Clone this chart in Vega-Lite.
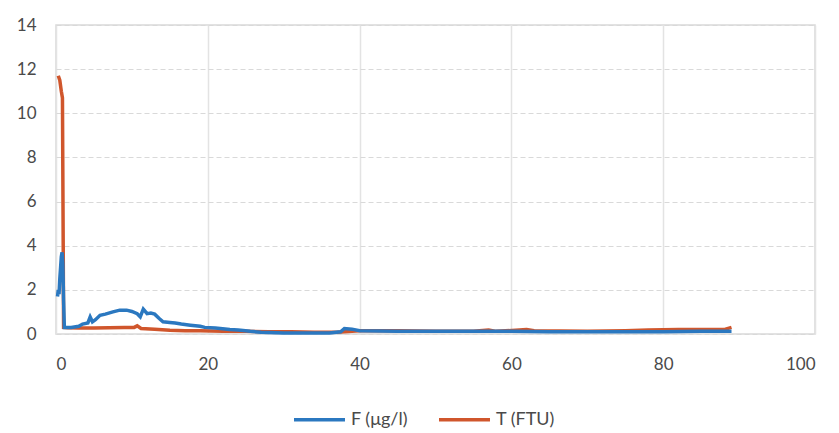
{
  "$schema": "https://vega.github.io/schema/vega-lite/v6.json",
  "width": 759,
  "height": 309,
  "autosize": "none",
  "padding": {"left": 56, "top": 25, "right": 24, "bottom": 99},
  "background": "white",
  "config": {
    "font": "Lato",
    "view": {"stroke": "#d9d9d9", "strokeWidth": 1.5},
    "axis": {"labelFont": "Lato", "labelFontSize": 17, "labelColor": "#4a4a4a", "domain": false, "ticks": false, "title": null}
  },
  "data": {"values": [
    {"x": 0.3, "v": 11.7, "s": "T (FTU)"},
    {"x": 0.5, "v": 11.5, "s": "T (FTU)"},
    {"x": 0.7, "v": 11.0, "s": "T (FTU)"},
    {"x": 0.85, "v": 10.7, "s": "T (FTU)"},
    {"x": 0.95, "v": 4.0, "s": "T (FTU)"},
    {"x": 1.0, "v": 0.3, "s": "T (FTU)"},
    {"x": 1.5, "v": 0.28, "s": "T (FTU)"},
    {"x": 3, "v": 0.27, "s": "T (FTU)"},
    {"x": 5, "v": 0.27, "s": "T (FTU)"},
    {"x": 7, "v": 0.28, "s": "T (FTU)"},
    {"x": 9, "v": 0.3, "s": "T (FTU)"},
    {"x": 10.3, "v": 0.3, "s": "T (FTU)"},
    {"x": 10.7, "v": 0.37, "s": "T (FTU)"},
    {"x": 11.2, "v": 0.25, "s": "T (FTU)"},
    {"x": 13, "v": 0.22, "s": "T (FTU)"},
    {"x": 15, "v": 0.17, "s": "T (FTU)"},
    {"x": 17, "v": 0.15, "s": "T (FTU)"},
    {"x": 19, "v": 0.15, "s": "T (FTU)"},
    {"x": 22, "v": 0.12, "s": "T (FTU)"},
    {"x": 25, "v": 0.12, "s": "T (FTU)"},
    {"x": 28, "v": 0.1, "s": "T (FTU)"},
    {"x": 31, "v": 0.1, "s": "T (FTU)"},
    {"x": 34, "v": 0.08, "s": "T (FTU)"},
    {"x": 37, "v": 0.08, "s": "T (FTU)"},
    {"x": 38, "v": 0.1, "s": "T (FTU)"},
    {"x": 40, "v": 0.15, "s": "T (FTU)"},
    {"x": 45, "v": 0.15, "s": "T (FTU)"},
    {"x": 50, "v": 0.12, "s": "T (FTU)"},
    {"x": 55, "v": 0.12, "s": "T (FTU)"},
    {"x": 57, "v": 0.18, "s": "T (FTU)"},
    {"x": 58, "v": 0.12, "s": "T (FTU)"},
    {"x": 62, "v": 0.2, "s": "T (FTU)"},
    {"x": 63, "v": 0.15, "s": "T (FTU)"},
    {"x": 70, "v": 0.12, "s": "T (FTU)"},
    {"x": 75, "v": 0.15, "s": "T (FTU)"},
    {"x": 78, "v": 0.18, "s": "T (FTU)"},
    {"x": 82, "v": 0.2, "s": "T (FTU)"},
    {"x": 85, "v": 0.2, "s": "T (FTU)"},
    {"x": 88, "v": 0.2, "s": "T (FTU)"},
    {"x": 89, "v": 0.3, "s": "T (FTU)"},
    {"x": 0.2, "v": 1.7, "s": "F (μg/l)"},
    {"x": 0.3, "v": 2.0, "s": "F (μg/l)"},
    {"x": 0.4, "v": 1.8, "s": "F (μg/l)"},
    {"x": 0.5, "v": 2.5, "s": "F (μg/l)"},
    {"x": 0.6, "v": 3.0, "s": "F (μg/l)"},
    {"x": 0.7, "v": 3.5, "s": "F (μg/l)"},
    {"x": 0.8, "v": 3.7, "s": "F (μg/l)"},
    {"x": 0.9, "v": 3.2, "s": "F (μg/l)"},
    {"x": 1.0, "v": 1.5, "s": "F (μg/l)"},
    {"x": 1.1, "v": 0.3, "s": "F (μg/l)"},
    {"x": 2, "v": 0.3, "s": "F (μg/l)"},
    {"x": 3, "v": 0.35, "s": "F (μg/l)"},
    {"x": 3.5, "v": 0.45, "s": "F (μg/l)"},
    {"x": 4.2, "v": 0.5, "s": "F (μg/l)"},
    {"x": 4.5, "v": 0.77, "s": "F (μg/l)"},
    {"x": 4.8, "v": 0.55, "s": "F (μg/l)"},
    {"x": 5.2, "v": 0.65, "s": "F (μg/l)"},
    {"x": 5.8, "v": 0.85, "s": "F (μg/l)"},
    {"x": 6.5, "v": 0.9, "s": "F (μg/l)"},
    {"x": 7.5, "v": 1.0, "s": "F (μg/l)"},
    {"x": 8.4, "v": 1.08, "s": "F (μg/l)"},
    {"x": 9.3, "v": 1.08, "s": "F (μg/l)"},
    {"x": 10, "v": 1.02, "s": "F (μg/l)"},
    {"x": 10.7, "v": 0.92, "s": "F (μg/l)"},
    {"x": 11.1, "v": 0.78, "s": "F (μg/l)"},
    {"x": 11.5, "v": 1.13, "s": "F (μg/l)"},
    {"x": 12.0, "v": 0.92, "s": "F (μg/l)"},
    {"x": 12.5, "v": 0.95, "s": "F (μg/l)"},
    {"x": 13.0, "v": 0.9, "s": "F (μg/l)"},
    {"x": 13.6, "v": 0.7, "s": "F (μg/l)"},
    {"x": 14.1, "v": 0.55, "s": "F (μg/l)"},
    {"x": 15, "v": 0.52, "s": "F (μg/l)"},
    {"x": 15.7, "v": 0.5, "s": "F (μg/l)"},
    {"x": 16.5, "v": 0.45, "s": "F (μg/l)"},
    {"x": 17.7, "v": 0.4, "s": "F (μg/l)"},
    {"x": 19, "v": 0.35, "s": "F (μg/l)"},
    {"x": 19.6, "v": 0.3, "s": "F (μg/l)"},
    {"x": 21, "v": 0.27, "s": "F (μg/l)"},
    {"x": 22.9, "v": 0.2, "s": "F (μg/l)"},
    {"x": 24, "v": 0.18, "s": "F (μg/l)"},
    {"x": 25.6, "v": 0.12, "s": "F (μg/l)"},
    {"x": 27, "v": 0.08, "s": "F (μg/l)"},
    {"x": 30, "v": 0.05, "s": "F (μg/l)"},
    {"x": 33, "v": 0.05, "s": "F (μg/l)"},
    {"x": 36, "v": 0.05, "s": "F (μg/l)"},
    {"x": 37.5, "v": 0.1, "s": "F (μg/l)"},
    {"x": 38, "v": 0.25, "s": "F (μg/l)"},
    {"x": 39, "v": 0.22, "s": "F (μg/l)"},
    {"x": 40, "v": 0.15, "s": "F (μg/l)"},
    {"x": 45, "v": 0.13, "s": "F (μg/l)"},
    {"x": 50, "v": 0.12, "s": "F (μg/l)"},
    {"x": 55, "v": 0.12, "s": "F (μg/l)"},
    {"x": 60, "v": 0.12, "s": "F (μg/l)"},
    {"x": 65, "v": 0.1, "s": "F (μg/l)"},
    {"x": 70, "v": 0.1, "s": "F (μg/l)"},
    {"x": 75, "v": 0.1, "s": "F (μg/l)"},
    {"x": 80, "v": 0.1, "s": "F (μg/l)"},
    {"x": 85, "v": 0.12, "s": "F (μg/l)"},
    {"x": 89, "v": 0.12, "s": "F (μg/l)"}
  ]},
  "encoding": {
    "x": {"field": "x", "type": "quantitative", "scale": {"domain": [0, 100], "nice": false},
      "axis": {"values": [0, 20, 40, 60, 80, 100], "labelPadding": 22, "gridColor": "#e3e3e3", "gridWidth": 1.5}},
    "y": {"field": "v", "type": "quantitative", "scale": {"domain": [0, 14], "nice": false},
      "axis": {"values": [0, 2, 4, 6, 8, 10, 12, 14], "labelPadding": 20, "gridColor": "#d9d9d9", "gridDash": [5, 3], "gridWidth": 1.2}},
    "color": {"field": "s", "type": "nominal",
      "scale": {"domain": ["F (μg/l)", "T (FTU)"], "range": ["#2b78c0", "#d0562c"]},
      "legend": {"title": null, "orient": "none", "direction": "horizontal", "legendX": 236, "legendY": 367,
        "symbolType": "stroke", "symbolSize": 2600, "symbolStrokeWidth": 3.5, "labelFontSize": 18, "labelColor": "#4a4a4a", "labelFont": "Lato", "columnPadding": 24, "labelOffset": 4}}
  },
  "layer": [
    {"transform": [{"filter": "datum.s === 'T (FTU)'"}], "mark": {"type": "line", "strokeWidth": 3.5}},
    {"transform": [{"filter": "datum.s === 'F (μg/l)'"}], "mark": {"type": "line", "strokeWidth": 3.5}}
  ]
}
